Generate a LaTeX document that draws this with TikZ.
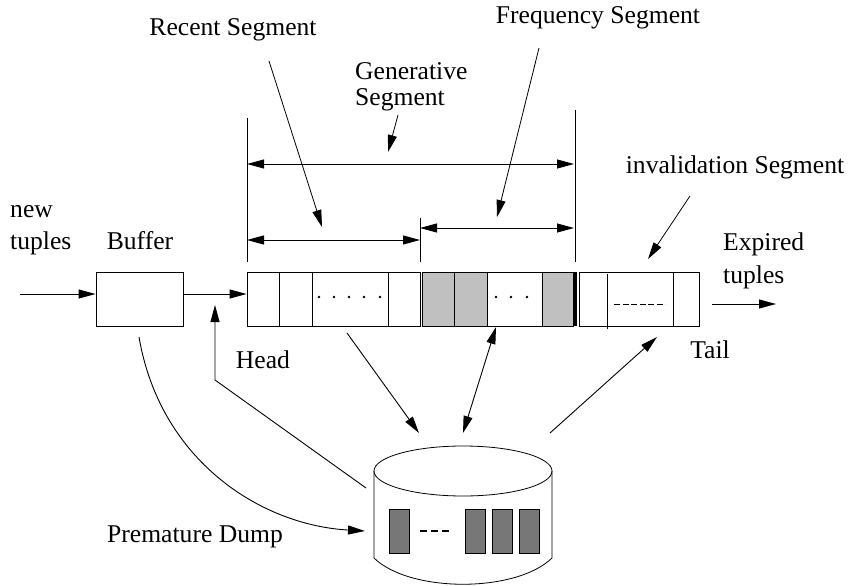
\documentclass[tikz,border=0pt]{standalone}
\usepackage{fontspec}
\setmainfont{Liberation Serif}
\usetikzlibrary{arrows.meta}
\definecolor{cellgray}{HTML}{C0C0C0}
\definecolor{darkcell}{HTML}{777777}
\begin{document}
\begin{tikzpicture}[x=1pt,y=-1pt,
  lbl/.style={font=\fontsize{25.6}{30}\selectfont, inner sep=0pt, anchor=base},
  lblw/.style={lbl, anchor=base west},
  tip/.style={Triangle[length=17pt,width=9pt]},
  arr/.style={-{Triangle[length=17pt,width=9pt]}, line width=0.9pt},
  darr/.style={{Triangle[length=17pt,width=9pt]}-{Triangle[length=17pt,width=9pt]}, line width=0.9pt},
  ln/.style={line width=0.9pt},
  boxn/.style={draw, line width=0.9pt, minimum height=54pt, inner sep=0pt},
  dbrect/.style={draw, line width=0.7pt, fill=darkcell}]
\useasboundingbox (0,0) rectangle (849,586);

% ---- buffer and segments
\node[boxn, minimum width=87pt] (buf) at (139.5,299) {};
\fill[cellgray] (422,272) rectangle (487,326);
\fill[cellgray] (542,272) rectangle (573,326);
\fill[black] (573,272) rectangle (577,326);
\node[boxn, minimum width=173pt] (s1) at (333.5,299) {};
\node[boxn, minimum width=151pt] (s2) at (497.5,299) {};
\node[boxn, minimum width=120pt] (s3) at (639,299) {};
% dividers
\foreach \x in {279,312,388} \draw[ln] (\x,272) -- (\x,326);
\foreach \x in {454,487,542} \draw[ln] (\x,272) -- (\x,326);
\draw[ln] (607,274) -- (607,329);
\draw[ln] (673,272) -- (673,326);
% dots
\foreach \x in {319,334,349,364,380} \fill (\x,297) circle (1.3pt);
\foreach \x in {496,511,527} \fill (\x,297) circle (1.3pt);
\draw[line width=0.6pt, dash pattern=on 6pt off 2.5pt] (614,304) -- (665,304);

% ---- dimension lines
\draw[ln] (247,118) -- (247,262);
\draw[ln] (575,110) -- (575,262);
\draw[ln] (420,218) -- (420,262);
\coordinate (gL) at (247,164); \coordinate (gR) at (574,164);
\coordinate (rL) at (247,240); \coordinate (rR) at (420,240);
\coordinate (fL) at (420,228); \coordinate (fR) at (574,228);
\draw[darr] (gL) -- (gR);
\draw[darr] (rL) -- (rR);
\draw[darr] (fL) -- (fR);

% ---- labels
\node[lbl] (recent) at (233,36) {Recent Segment};
\node[lblw] (gen1) at (355,80) {Generative};
\node[lblw] (gen2) at (355,105) {Segment};
\node[lbl] (freq) at (598,24) {Frequency Segment};
\node[lbl] (inval) at (735,173) {invalidation Segment};
\node[lblw] (new1) at (10,217) {new};
\node[lblw] (new2) at (10,249) {tuples};
\node[lbl] (buflbl) at (140,249) {Buffer};
\node[lblw] (exp1) at (723,250) {Expired};
\node[lblw] (exp2) at (723,283) {tuples};
\node[lbl] (head) at (263,368) {Head};
\node[lbl] (tail) at (710,358) {Tail};
\node[lbl] (dump) at (195,542) {Premature Dump};

% ---- pointers
\coordinate (rp0) at (269,61);  \coordinate (rp1) at (322,227);
\coordinate (gp0) at (398,115); \coordinate (gp1) at (388,152);
\coordinate (fp0) at (539,48);  \coordinate (fp1) at (497,217);
\coordinate (ip0) at (690,196); \coordinate (ip1) at (648,259);
\draw[arr, line width=0.8pt] (rp0) -- (rp1);
\draw[arr, line width=0.8pt] (gp0) -- (gp1);
\draw[arr, line width=0.8pt] (fp0) -- (fp1);
\draw[arr, line width=0.8pt] (ip0) -- (ip1);

% ---- flow arrows
\coordinate (in0) at (20,294);
\draw[arr] (in0) -- (buf.west |- in0);
\draw[arr] (buf.east |- in0) -- (s1.west |- in0);
\coordinate (ex0) at (712,304); \coordinate (ex1) at (776,304);
\draw[arr] (ex0) -- (ex1);

% ---- database cylinder
\node[minimum width=178pt, minimum height=138pt, inner sep=0pt] (db) at (463,515) {};
\draw[ln, line width=0.8pt] (463,471) ellipse [x radius=89pt, y radius=25pt];
\draw[ln, line width=0.8pt] (374,471) -- (374,558) .. controls (410,593) and (516,593) .. (552,558) -- (552,471);
\draw[dbrect] (389,509) rectangle (409,553);
\draw[dbrect] (465,509) rectangle (485,553);
\draw[dbrect] (492,509) rectangle (512,553);
\draw[dbrect] (519,509) rectangle (539,553);
\draw[line width=1.6pt, dash pattern=on 7pt off 4pt] (420,531) -- (452,531);

% ---- connectors to/from database
\coordinate (a0) at (347,333); \coordinate (a1) at (419,433);
\draw[arr] (a0) -- (a1);
\coordinate (b0) at (496,327); \coordinate (b1) at (463,433);
\draw[darr] (b0) -- (b1);
\coordinate (c0) at (550,433); \coordinate (c1) at (657,337);
\draw[arr] (c0) -- (c1);
\coordinate (h0) at (366,488); \coordinate (h1) at (215,380); \coordinate (h2) at (215,305);
\draw[arr] (h0) -- (h1) -- (h2);
\coordinate (d0) at (139,337); \coordinate (d1) at (365,531);
\draw[arr] (d0) .. controls (160,460) and (260,525) .. (d1);
\end{tikzpicture}
\end{document}
